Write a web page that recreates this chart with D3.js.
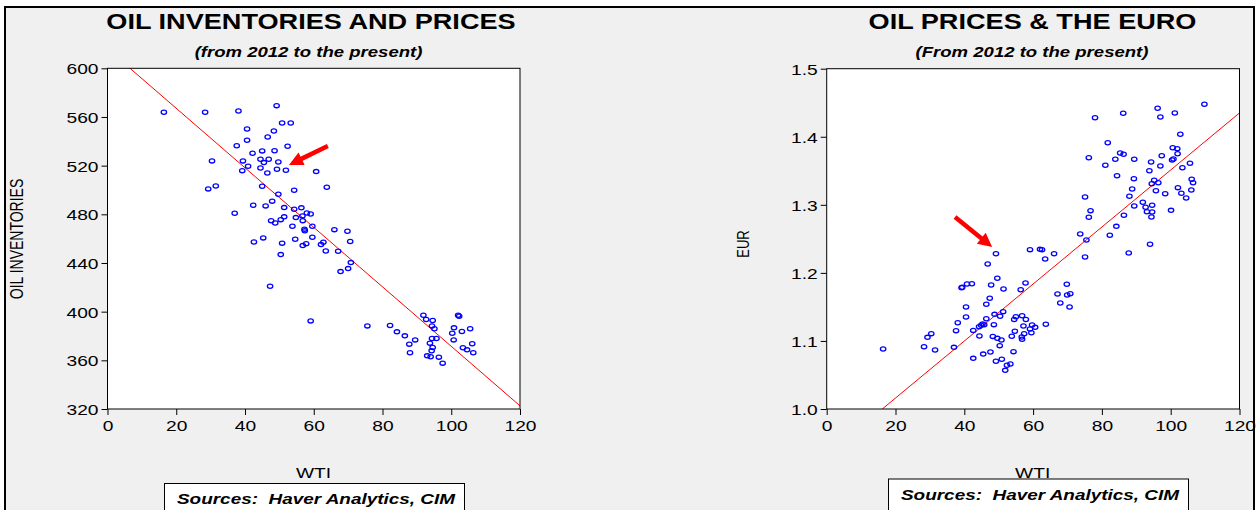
<!DOCTYPE html>
<html><head><meta charset="utf-8">
<script src="https://cdn.jsdelivr.net/npm/d3@7"></script>
<style>
body{margin:0;background:#fff;}
svg{display:block;}
text{font-family:"Liberation Sans",Arial,Helvetica,sans-serif;}
.pre{white-space:pre;}
</style>
</head><body>
<svg id="chart" width="1257" height="510"></svg>
<script>
// ---------- DATA ----------
const xTicks = [0, 20, 40, 60, 80, 100, 120];
const invTicks = [320, 360, 400, 440, 480, 520, 560, 600];
const eurTicks = [1.0, 1.1, 1.2, 1.3, 1.4, 1.5];

const wtiLeft = [16.4,28.4,38.1,49.2,50.8,53.3,40.6,48.4,46.6,40.6,37.6,52.4,45.0,48.6,42.2,30.4,39.4,44.5,46.9,45.5,49.7,40.9,39.2,44.5,49.3,51.9,46.5,60.7,29.3,31.5,37.0,
45.0,54.3,63.8,49.7,42.4,47.9,46.0,51.4,54.3,56.4,58.0,59.1,56.7,54.8,51.4,50.4,47.6,48.8,56.8,53.8,59.6,57.3,57.4,66.0,69.8,42.6,45.3,50.8,54.6,59.6,57.8,56.8,62.1,62.8,70.6,50.4,63.5,67.1,70.8,70.0,67.8,47.3,59.1,75.6,82.2,84.2,86.5,89.5,87.8,88.0,91.9,92.7,94.6,94.4,95.1,94.4,95.7,93.8,94.6,94.3,93.0,94.0,96.4,97.5,102.0,102.3,100.8,100.3,103.1,105.5,100.7,103.4,104.6,106.1,106.4];
const inventories = [563.9,563.9,564.9,569.3,555.1,555.1,550.1,548.5,543.6,540.9,536.4,535.9,532.1,532.3,530.2,523.9,523.9,525.3,525.3,522.5,523.0,519.5,515.9,518.1,517.0,516.2,514.0,515.1,500.9,503.3,480.9,
503.1,499.8,502.3,496.5,487.5,490.8,486.9,485.5,484.2,485.3,481.1,480.3,478.7,477.3,477.9,475.6,474.8,472.9,474.8,470.2,470.2,467.8,466.4,467.4,466.1,457.3,460.6,456.3,459.5,461.2,455.9,454.3,455.1,457.1,457.6,446.9,449.9,449.7,440.3,435.4,432.9,420.9,392.4,388.3,388.6,383.4,380.1,376.8,373.3,366.2,397.1,393.5,392.7,388.3,385.9,377.9,377.9,374.1,370.5,367.8,363.7,362.9,362.6,357.7,397.1,396.3,386.7,382.3,383.7,385.9,376.8,370.3,368.6,373.6,366.2];

const wtiRight = [109.8,96.2,86.2,101.2,78.0,97.0,102.8,81.7,100.6,101.9,
85.3,86.3,102.0,97.4,76.2,83.9,89.4,100.4,100.8,94.3,
81.0,97.0,105.6,103.4,93.8,84.4,89.3,106.1,106.5,95.2,
96.4,94.5,88.8,102.1,95.7,106.0,98.4,103.1,88.0,104.5,
75.1,91.9,89.4,92.7,94.6,76.7,93.1,94.6,100.1,76.2,
86.4,94.4,84.2,73.7,82.3,75.5,94.0,87.8,75.1,59.1,
62.0,62.6,66.1,63.5,49.2,46.8,49.6,47.8,51.4,57.8,
56.4,42.2,40.8,39.4,39.2,69.8,67.1,69.9,70.8,67.9,
70.6,47.4,46.4,40.5,40.5,48.8,51.3,50.4,46.4,55.0,
54.5,56.8,57.9,38.1,57.2,59.7,60.6,59.1,59.5,63.7,
57.4,56.7,56.8,54.7,53.8,48.6,45.8,45.3,44.9,44.3,
42.6,37.6,44.4,48.3,49.6,50.8,50.3,29.3,30.4,28.3,
31.5,37.0,16.4,42.6,45.5,47.6,54.3,49.2,50.9,52.4,
53.4,51.9];
const eur = [1.4477,1.4418,1.4345,1.4349,1.4280,1.4290,1.4036,1.3913,1.3839,1.3825,
1.3761,1.3742,1.3751,1.3722,1.3692,1.3669,1.3669,1.3659,1.3673,1.3629,
1.3581,1.3570,1.3610,1.3545,1.3501,1.3428,1.3384,1.3375,1.3325,1.3360,
1.3325,1.3310,1.3232,1.3252,1.3207,1.3218,1.3163,1.3169,1.3125,1.3100,
1.3115,1.3037,1.2983,1.2964,1.2993,1.2914,1.2899,1.2894,1.2919,1.2817,
1.2846,1.2821,1.2684,1.2571,1.2552,1.2483,1.2420,1.2292,1.2233,1.2341,
1.2346,1.2341,1.2282,1.2204,1.2282,1.2130,1.1920,1.1822,1.1763,1.1851,
1.1753,1.1841,1.1837,1.1788,1.1782,1.1832,1.1690,1.1675,1.1694,1.1557,
1.1499,1.1627,1.1538,1.1499,1.1352,1.1391,1.1430,1.1362,1.1327,1.1356,
1.1315,1.1371,1.1315,1.1268,1.1219,1.1234,1.1200,1.1175,1.1121,1.1245,
1.1106,1.1057,1.1024,1.1142,1.1068,1.1239,1.1239,1.1249,1.1230,1.1209,
1.1155,1.1151,1.1072,1.1067,1.1038,1.1013,1.0931,1.1053,1.1107,1.0915,
1.0867,1.0906,1.0882,1.0744,1.0807,1.0837,1.0843,1.0701,1.0730,1.0642,
1.0661,1.0568];

// regression fits
const fitInv = {intercept: 616.0, slope: -2.445};
const fitEur = {intercept: 0.9323, slope: 0.004189};
// annotation arrows, in data units [tailX, tailY, tipX, tipY]
const arrowInv = [64.1, 536.2, 52.8, 520.6];
const arrowEur = [37.3, 1.282, 48.1, 1.238];

// ---------- DRAW ----------
const SX = 1.28; // horizontal stretch of the original picture
const svg = d3.select("#chart");

// background and outer frame
svg.append("rect").attr("x",5).attr("y",7).attr("width",1249).attr("height",503).attr("fill","#f0f0f0");
svg.append("line").attr("x1",4).attr("x2",1255).attr("y1",7).attr("y2",7).attr("stroke","#000").attr("stroke-width",2);
svg.append("line").attr("x1",5).attr("x2",5).attr("y1",6).attr("y2",510).attr("stroke","#000").attr("stroke-width",2);
svg.append("line").attr("x1",1254).attr("x2",1254).attr("y1",6).attr("y2",510).attr("stroke","#000").attr("stroke-width",2);

function stext(g, x, y, str, o) {
  o = o || {};
  const t = g.append("text")
    .attr("transform", `translate(${x},${y}) scale(${SX},1)` + (o.rotate ? ` rotate(${o.rotate})` : ""))
    .attr("text-anchor", o.anchor || "middle")
    .attr("font-size", o.size || 15)
    .attr("fill", "#000")
    .attr("class", "pre")
    .text(str);
  if (o.bold) t.attr("font-weight", "bold");
  if (o.italic) t.attr("font-style", "italic");
  return t;
}

function arrow(g, x1, y1, x2, y2) {
  const dx = x2 - x1, dy = y2 - y1, L = Math.hypot(dx, dy);
  const ux = dx / L, uy = dy / L, px = -uy, py = ux;
  const hl = 14, hw = 7;
  const bx = x2 - ux * hl, by = y2 - uy * hl;
  g.append("line").attr("x1", x1).attr("y1", y1).attr("x2", bx + ux*2).attr("y2", by + uy*2)
    .attr("stroke", "#ff0000").attr("stroke-width", 4.5);
  g.append("path").attr("d", `M${x2},${y2}L${bx + px*hw},${by + py*hw}L${bx - px*hw},${by - py*hw}Z`)
    .attr("fill", "#ff0000");
}

function panel(cfg) {
  const g = svg.append("g");
  const x = d3.scaleLinear().domain([0, 120]).range(cfg.xr);
  const y = d3.scaleLinear().domain(cfg.yd).range(cfg.yr);
  const [L, R] = cfg.xr, [B, T] = cfg.yr;

  g.append("rect").attr("x", L).attr("y", T).attr("width", R - L).attr("height", B - T)
    .attr("fill", "#fff");

  const clipId = "clip" + cfg.id;
  svg.append("clipPath").attr("id", clipId).append("rect")
    .attr("x", L).attr("y", T).attr("width", R - L).attr("height", B - T);

  // regression line
  const line = d3.line().x(d => x(d)).y(d => y(cfg.fit.intercept + cfg.fit.slope * d));
  g.append("path").datum([0, 120]).attr("d", line).attr("fill", "none")
    .attr("stroke", "#ff0000").attr("stroke-width", 1).attr("clip-path", `url(#${clipId})`);

  // points
  g.append("g").selectAll("ellipse").data(cfg.xs.map((v, i) => [v, cfg.ys[i]])).join("ellipse")
    .attr("cx", d => x(d[0])).attr("cy", d => y(d[1]))
    .attr("rx", 2.7).attr("ry", 2.1)
    .attr("fill", "none").attr("stroke", "#0000ff").attr("stroke-width", 1.3);

  // frame
  g.append("rect").attr("x", L).attr("y", T).attr("width", R - L).attr("height", B - T)
    .attr("fill", "none").attr("stroke", "#000").attr("stroke-width", 1);

  // axes
  const ax = g.append("g").attr("transform", `translate(0,${B})`)
    .call(d3.axisBottom(x).tickValues(xTicks).tickSize(6).tickFormat(d3.format("d")));
  ax.select(".domain").remove();
  ax.selectAll("line").attr("stroke", "#000");
  ax.selectAll("text").attr("y", 0).attr("dy", null)
    .attr("transform", `translate(0,22) scale(${SX},1)`)
    .attr("font-size", 15).attr("fill", "#000");
  ax.attr("font-family", null);

  const ay = g.append("g").attr("transform", `translate(${L},0)`)
    .call(d3.axisLeft(y).tickValues(cfg.yt).tickSize(6).tickFormat(cfg.yf));
  ay.select(".domain").remove();
  ay.selectAll("line").attr("stroke", "#000");
  ay.selectAll("text").attr("x", 0).attr("dy", "0.36em")
    .attr("transform", `translate(-9,0) scale(${SX},1)`)
    .attr("font-size", 15).attr("fill", "#000");
  ay.attr("font-family", null);

  // titles
  stext(g, cfg.titleX, 28.5, cfg.title, {size: 21.2, bold: true});
  stext(g, cfg.subX, 56.5, cfg.sub, {size: 14.5, bold: true, italic: true});

  // axis titles
  stext(g, cfg.xlabX, 478, "WTI", {size: 15});
  stext(g, cfg.ylabX, cfg.ylabY, cfg.ylab, {size: cfg.ylabSize, rotate: -90});

  // arrow
  const a = cfg.arrow;
  arrow(g, x(a[0]), y(a[1]), x(a[2]), y(a[3]));

  // sources box
  g.append("rect").attr("x", cfg.box[0]).attr("y", cfg.box[1]).attr("width", cfg.box[2]).attr("height", 40)
    .attr("fill", "#fff").attr("stroke", "#000").attr("stroke-width", 1);
  stext(g, cfg.box[0] + 12.5, cfg.box[1] + 20.5, "Sources:  Haver Analytics, CIM",
    {size: 14.8, bold: true, italic: true, anchor: "start"});
}

panel({
  id: "L", xr: [107.5, 520], yd: [320, 600], yr: [409, 68.3], yt: invTicks, yf: d3.format("d"),
  xs: wtiLeft, ys: inventories, fit: fitInv, arrow: arrowInv,
  title: "OIL INVENTORIES AND PRICES", titleX: 311,
  sub: "(from 2012 to the present)", subX: 308.5,
  xlabX: 313.5, ylab: "OIL INVENTORIES", ylabX: 23, ylabY: 239, ylabSize: 14,
  box: [164.5, 483.5, 300]
});
panel({
  id: "R", xr: [826.7, 1239.5], yd: [1.0, 1.5], yr: [409, 68.7], yt: eurTicks, yf: d3.format(".1f"),
  xs: wtiRight, ys: eur, fit: fitEur, arrow: arrowEur,
  title: "OIL PRICES & THE EURO", titleX: 1032.5,
  sub: "(From 2012 to the present)", subX: 1032,
  xlabX: 1032.7, ylab: "EUR", ylabX: 749, ylabY: 244, ylabSize: 13,
  box: [888.5, 479, 300]
});
</script>
</body></html>
